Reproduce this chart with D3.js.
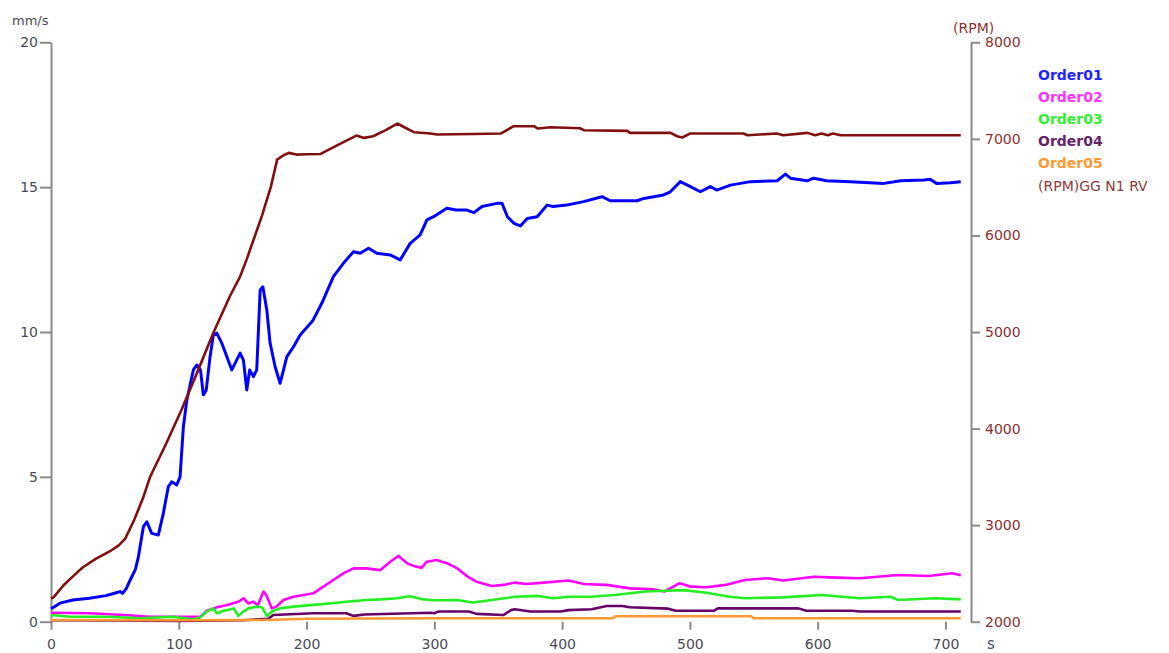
<!DOCTYPE html>
<html>
<head>
<meta charset="utf-8">
<script src="https://cdn.jsdelivr.net/npm/d3@7"></script>
<style>
  html, body { margin: 0; padding: 0; background: #fff; }
  svg { display: block; }
</style>
</head>
<body>
<svg id="chart" width="1169" height="653"></svg>
<script>
// Order-tracking vibration levels (mm/s) against run time (s), with shaft speed (RPM) on the right axis.

const timeTicks = [0, 100, 200, 300, 400, 500, 600, 700];
const velocityTicks = [0, 5, 10, 15, 20];
const rpmTicks = [2000, 3000, 4000, 5000, 6000, 7000, 8000];

const seriesNames = ["Order01", "Order02", "Order03", "Order04", "Order05", "(RPM)GG N1 RV"];

// [time s, velocity mm/s]
const order01 = [
  [0,0.45],[2,0.5],[7,0.64],[17,0.75],[30,0.81],[43,0.9],[51,1.0],[54,1.04],[56,0.98],[59,1.15],
  [62,1.44],[66,1.8],[68.4,2.24],[72.3,3.28],[75,3.45],[78.8,3.05],[84,2.99],[87.9,3.74],[91.8,4.66],
  [94.5,4.83],[98.4,4.72],[101,5.0],[103.6,6.73],[106.3,7.65],[111.4,8.69],[114.1,8.86],[117,8.69],
  [119.2,7.83],[121.5,8.0],[124.5,9.15],[127.1,9.9],[129.8,9.96],[133.7,9.61],[141.5,8.69],[148,9.27],
  [150.6,9.03],[153.2,8.0],[155.5,8.69],[158.4,8.46],[161,8.69],[163.7,11.45],[165.8,11.56],[168.9,10.76],
  [171.5,9.61],[175.4,8.8],[179.3,8.23],[184.6,9.15],[189.8,9.49],[195,9.9],[205,10.4],[212,11.0],
  [221,11.91],[228.8,12.37],[236.7,12.77],[242,12.72],[248.5,12.89],[255,12.72],[265.5,12.66],[273.3,12.49],
  [281.1,13.06],[288.9,13.35],[294.2,13.87],[299.4,13.98],[309.8,14.27],[317,14.21],[325.5,14.21],[331,14.12],
  [337.3,14.33],[349,14.44],[353,14.44],[357.2,13.98],[362.4,13.75],[367.3,13.66],[372.7,13.92],[380.5,13.98],
  [388.2,14.38],[393,14.33],[403.5,14.38],[416.8,14.5],[431.2,14.67],[437.7,14.53],[458.6,14.53],[464,14.61],
  [479.4,14.73],[484.7,14.84],[492.5,15.19],[500.4,15.02],[508.2,14.84],[516,15.02],[521,14.9],[531.7,15.07],
  [547.4,15.19],[568.3,15.22],[574.8,15.45],[578.7,15.31],[591.8,15.22],[596.8,15.31],[607,15.22],[625.7,15.19],
  [651.8,15.13],[665,15.22],[683.1,15.25],[688,15.27],[693,15.13],[704,15.15],[712,15.19]
];

const order02 = [
  [0,0.31],[30,0.29],[57,0.23],[77,0.17],[117,0.17],[122,0.38],[130,0.5],[138,0.58],[146.7,0.69],
  [150.6,0.81],[154.5,0.63],[158,0.69],[162,0.58],[166.3,1.04],[168.5,0.92],[172.8,0.46],[176.5,0.52],
  [181.9,0.75],[189.8,0.86],[197.6,0.92],[205.4,0.98],[213.2,1.21],[221,1.44],[228.8,1.67],[236.7,1.84],
  [247,1.84],[257.6,1.78],[265.5,2.07],[272,2.27],[279,2.01],[285,1.91],[290,1.86],[294,2.07],[302,2.13],
  [306,2.07],[310,2.02],[318,1.84],[326,1.56],[333,1.38],[345,1.23],[354,1.27],[363,1.35],[372,1.30],
  [381,1.33],[405,1.42],[417,1.30],[435,1.27],[453,1.15],[471,1.12],[480,1.04],[492,1.33],[501,1.21],
  [513,1.19],[528,1.27],[543,1.44],[561,1.50],[573,1.42],[597,1.55],[609,1.53],[633,1.50],[663,1.61],
  [687,1.58],[705,1.67],[712,1.6]
];

const order03 = [
  [0,0.23],[15,0.17],[45,0.17],[70,0.12],[95,0.17],[111,0.08],[117,0.15],[122,0.35],[127,0.46],[130,0.29],
  [135,0.38],[140,0.42],[143,0.46],[146.7,0.2],[150.5,0.35],[154.5,0.46],[161,0.52],[165,0.5],[169,0.2],
  [173,0.35],[179,0.46],[190,0.52],[205,0.58],[218,0.63],[231,0.69],[247,0.75],[258,0.77],[271,0.81],
  [281,0.88],[290,0.78],[299,0.74],[318,0.75],[330,0.66],[345,0.75],[363,0.86],[381,0.89],[393,0.81],
  [405,0.86],[423,0.86],[441,0.92],[465,1.04],[483,1.07],[495,1.09],[513,1.0],[531,0.86],[543,0.81],
  [573,0.84],[603,0.92],[633,0.81],[657,0.86],[663,0.75],[692,0.81],[712,0.77]
];

const order04 = [
  [0,0.05],[50,0.04],[100,0.03],[150,0.05],[170,0.1],[174,0.23],[205,0.29],[231,0.29],[237,0.2],[245,0.25],
  [297,0.31],[300,0.29],[303,0.35],[327,0.35],[333,0.27],[354,0.23],[360,0.40],[363,0.43],[375,0.35],
  [399,0.35],[405,0.40],[423,0.43],[435,0.54],[447,0.54],[453,0.50],[483,0.45],[489,0.38],[519,0.38],
  [522,0.46],[585,0.46],[591,0.38],[627,0.38],[633,0.35],[712,0.35]
];

const order05 = [
  [0,0.06],[100,0.05],[170,0.06],[200,0.1],[300,0.12],[440,0.12],[442,0.19],[548,0.19],[550,0.12],[712,0.12]
];

// [time s, shaft speed RPM]
const rpmSpeed = [
  [0,2240],[2,2252],[10,2380],[18,2480],[25,2564],[35,2650],[47,2737],[53,2790],[58,2858],[65,3050],
  [72,3280],[77.5,3498],[90,3840],[102,4190],[115,4600],[127,4990],[140,5370],[148,5574],[153,5747],
  [165,6200],[172,6500],[177,6785],[182,6830],[186,6855],[192,6837],[200,6840],[211,6844],[225,6940],
  [239,7034],[245,7010],[252,7027],[262,7090],[271,7159],[278,7110],[284,7069],[297,7055],[302,7045],
  [330,7050],[352,7055],[362,7131],[378,7131],[381,7107],[391,7120],[414,7110],[417,7090],[451,7083],
  [453,7062],[485,7062],[490,7027],[494,7014],[500,7055],[542,7055],[545,7038],[568,7055],[573,7038],
  [592,7062],[598,7038],[603,7055],[608,7038],[612,7055],[618,7038],[712,7038]
];

const colors = ["#0000ff", "#ff00ff", "#22ee22", "#660066", "#ff9933", "#801010"];
const legendColors = ["#2222ff", "#ff33ff", "#33ee33", "#662266", "#ff9933", "#8b3a3a"];

const svg = d3.select("#chart");
const plot = { left: 51, right: 971, top: 42.3, bottom: 621.7 };

const x = d3.scaleLinear().domain([0, 720]).range([plot.left, plot.right]);
const yL = d3.scaleLinear().domain([0, 20]).range([plot.bottom, plot.top]);
const yR = d3.scaleLinear().domain([2000, 8000]).range([plot.bottom, plot.top]);

const axisColor = "#8a8a8a";
const textColor = "#4a4a55";
const rpmText = "#8b3030";
const font = "DejaVu Sans, Verdana, sans-serif";

// Left axis (velocity)
const gL = svg.append("g").attr("transform", `translate(${plot.left},0)`)
  .call(d3.axisLeft(yL).tickValues(velocityTicks).tickFormat(d3.format("d"))
    .tickSize(11).tickSizeOuter(0).tickPadding(2));
// Right axis (speed)
const gR = svg.append("g").attr("transform", `translate(${plot.right},0)`)
  .call(d3.axisRight(yR).tickValues(rpmTicks).tickFormat(d3.format("d"))
    .tickSize(9).tickSizeOuter(0).tickPadding(5));
// Bottom axis (time), ticks only
const gB = svg.append("g").attr("transform", `translate(0,${plot.bottom})`)
  .call(d3.axisBottom(x).tickValues(timeTicks).tickFormat(d3.format("d"))
    .tickSize(8).tickSizeOuter(0).tickPadding(9));
gB.select(".domain").remove();

[gL, gR, gB].forEach(g => {
  g.select(".domain").attr("stroke", axisColor).attr("stroke-width", 2);
  g.selectAll(".tick line").attr("stroke", axisColor).attr("stroke-width", 2);
  g.selectAll(".tick text").attr("font-family", font).attr("font-size", 14).attr("fill", textColor);
});
gR.selectAll(".tick text").attr("fill", rpmText);

// Unit labels
svg.append("text").attr("x", 12).attr("y", 25).text("mm/s")
  .attr("font-family", font).attr("font-size", 13).attr("fill", textColor);
svg.append("text").attr("x", 953).attr("y", 33).text("(RPM)")
  .attr("font-family", font).attr("font-size", 14).attr("fill", rpmText);
svg.append("text").attr("x", 987).attr("y", 649).text("s")
  .attr("font-family", font).attr("font-size", 15).attr("fill", textColor);

// Lines
const lineL = d3.line().x(d => x(d[0])).y(d => yL(d[1]));
const lineR = d3.line().x(d => x(d[0])).y(d => yR(d[1]));

const orderSeries = [order01, order02, order03, order04, order05];
orderSeries.forEach((s, i) => {
  svg.append("path").datum(s)
    .attr("d", lineL)
    .attr("fill", "none")
    .attr("stroke", colors[i])
    .attr("stroke-width", i === 0 ? 3 : 2.6)
    .attr("stroke-linejoin", "round");
});
svg.append("path").datum(rpmSpeed)
  .attr("d", lineR)
  .attr("fill", "none")
  .attr("stroke", colors[5])
  .attr("stroke-width", 2.6)
  .attr("stroke-linejoin", "round");

// Legend
const legend = svg.append("g").attr("transform", "translate(1038,0)");
seriesNames.forEach((name, i) => {
  legend.append("text")
    .attr("x", 0)
    .attr("y", 79.5 + i * 22.2)
    .text(name)
    .attr("font-family", font)
    .attr("font-size", 14)
    .attr("font-weight", i < 5 ? "bold" : "normal")
    .attr("fill", legendColors[i]);
});
</script>
</body>
</html>
